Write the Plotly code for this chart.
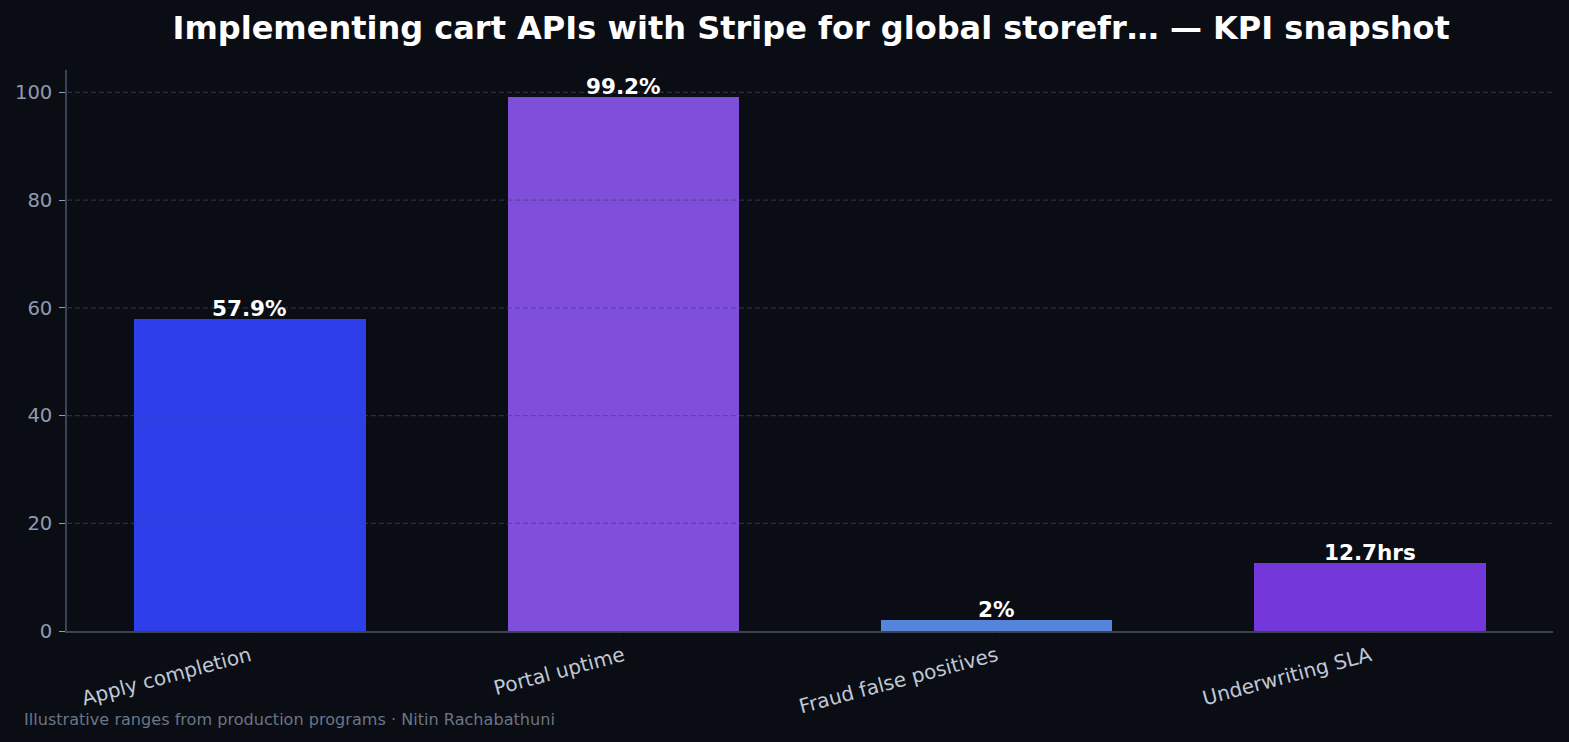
import plotly.graph_objects as go

categories = ["Apply completion", "Portal uptime", "Fraud false positives", "Underwriting SLA"]
values = [57.9, 99.2, 2.0, 12.7]
value_labels = ["57.9%", "99.2%", "2%", "12.7hrs"]
bar_colors = ["#2e3fe9", "#7f4fdc", "#5684db", "#7437d9"]
y_ticks = [0, 20, 40, 60, 80, 100]

title = "Implementing cart APIs with Stripe for global storefr\u2026 \u2014 KPI snapshot"
footnote = "Illustrative ranges from production programs \u00b7 Nitin Rachabathuni"

BG = "#0a0d14"
FONT = "DejaVu Sans"

fig = go.Figure()
fig.add_trace(go.Bar(
    x=list(range(len(categories))),
    y=values,
    width=0.62,
    marker=dict(color=bar_colors, line=dict(width=0)),
    hoverinfo="skip",
))

# dashed gridlines drawn above bars
for t in y_ticks[1:]:
    fig.add_shape(type="line", xref="paper", yref="y", x0=0, x1=1, y0=t, y1=t,
                  line=dict(color="rgba(62,70,96,0.6)", width=1.2, dash="5px,3px"),
                  layer="above")

annotations = []
for i, (v, lab) in enumerate(zip(values, value_labels)):
    annotations.append(dict(
        x=i, y=v, xref="x", yref="y", text=lab, showarrow=False,
        xanchor="center", yanchor="bottom", yshift=-4,
        font=dict(family=FONT, size=21.5, color="#ffffff", weight="bold"),
    ))
annotations.append(dict(
    text=footnote, xref="paper", yref="paper",
    x=-0.030, y=-0.158, xanchor="left", yanchor="middle", showarrow=False,
    font=dict(family=FONT, size=16.1, color="#6b7585"),
))

fig.update_layout(
    width=1569, height=742,
    paper_bgcolor=BG, plot_bgcolor=BG,
    margin=dict(l=67, r=16, t=70, b=111),
    showlegend=False,
    bargap=0,
    title=dict(text=title, x=0.517, xanchor="center", y=0.962, yanchor="middle",
               font=dict(family=FONT, size=32, color="#ffffff", weight="bold")),
    xaxis=dict(
        range=[-0.49, 3.49],
        tickmode="array", tickvals=list(range(len(categories))), ticktext=categories,
        tickangle=-15,
        tickfont=dict(family=FONT, size=20, color="#c0c8d6"),
        showgrid=False, zeroline=False,
        showline=True, linecolor="#3a4454", linewidth=1.5,
        ticks="outside", ticklen=4, tickcolor="#05070a", tickwidth=1,
    ),
    yaxis=dict(
        range=[0, 104.16],
        tickmode="array", tickvals=y_ticks,
        tickfont=dict(family=FONT, size=19.6, color="#8f9bb0"),
        ticklabelstandoff=3,
        showgrid=False, zeroline=False,
        showline=True, linecolor="#3a4454", linewidth=1.5,
        ticks="outside", ticklen=6, tickcolor="#8f9bb0", tickwidth=1,
    ),
    annotations=annotations,
)

fig.write_html("out.html")
